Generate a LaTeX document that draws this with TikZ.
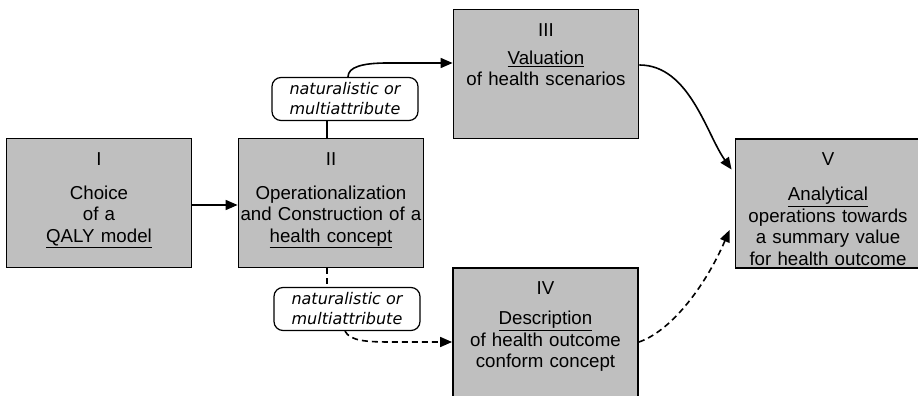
\documentclass[tikz,border=0pt]{standalone}
\usepackage{fontspec}
\setmainfont{Liberation Sans}
\newfontfamily\notefont{DejaVu Sans}
\usetikzlibrary{arrows.meta}
\begin{document}
\begin{tikzpicture}[
  x=1pt, y=1pt,
  box/.style={draw, line width=1.8pt, fill=black!25, text width=185pt, align=center, inner sep=0pt,
    text height=26.7pt, text depth=102.3pt, font=\fontsize{18.7}{21.5}\selectfont},
  note/.style={draw, line width=1.2pt, rounded corners=9pt, fill=white, align=center, inner sep=2pt,
    minimum width=146pt, minimum height=43pt, font=\notefont\itshape\fontsize{16}{20}\selectfont},
  arrow/.style={-{Triangle[length=12pt,width=10pt]}, line width=1.6pt},
  link/.style={line width=1.4pt},
  dashedlink/.style={line width=1.4pt, dash pattern=on 6pt off 4pt},
  dashedarrow/.style={arrow, dash pattern=on 6pt off 4pt}
]
\useasboundingbox (0,0) rectangle (918,-396);
\clip (0,0) rectangle (918,-396);
\node[box] (I) at (99,-203) {I\\[12.5pt]Choice\\of a\\\underline{QALY model}};
\node[box] (II) at (331,-203) {II\\[12.5pt]Operationalization\\and Construction of a\\\underline{health concept}};
\node[box] (III) at (546,-74) {III\\[6.5pt]\underline{Valuation}\\of health scenarios};
\node[box] (IV) at (545.5,-332.5) {IV\\[8.5pt]\underline{Description}\\of health outcome\\conform concept};
\node[box] (V) at (828,-203.5) {V\\[13.5pt]\underline{Analytical}\\operations towards\\a summary value\\for health outcome};
\node[note] (up) at (345,-99) {naturalistic or\\multiattribute};
\node[note] (down) at (347,-309) {naturalistic or\\multiattribute};
\draw[arrow] ([yshift=-2pt]I.east) -- ([yshift=-2pt]II.west);
\draw[link] ([xshift=-4pt]II.north) -- ([xshift=-4pt]II.north |- up.south);
\draw[arrow] ([xshift=3pt]up.north) .. controls +(0,10) and +(-25,0) .. ([xshift=-65pt,yshift=11pt]III.west) -- ([yshift=11pt]III.west);
\draw[dashedlink] ([xshift=-4pt]II.south) -- ([xshift=-4pt]II.south |- down.north);
\draw[dashedarrow] ([xshift=-2pt]down.south) .. controls +(5,-10) and +(-25,0) .. ([xshift=-60pt,yshift=-9.5pt]IV.west) -- ([yshift=-9.5pt]IV.west);
\draw[arrow] ([yshift=9pt]III.east) .. controls +(50,0) and +(-25,35) .. ([xshift=-3pt,yshift=34pt]V.west);
\draw[dashedarrow] ([yshift=-9.5pt]IV.east) .. controls +(30,10) and +(-26,-60) .. ([xshift=-5pt,yshift=-26.5pt]V.west);
\end{tikzpicture}
\end{document}
